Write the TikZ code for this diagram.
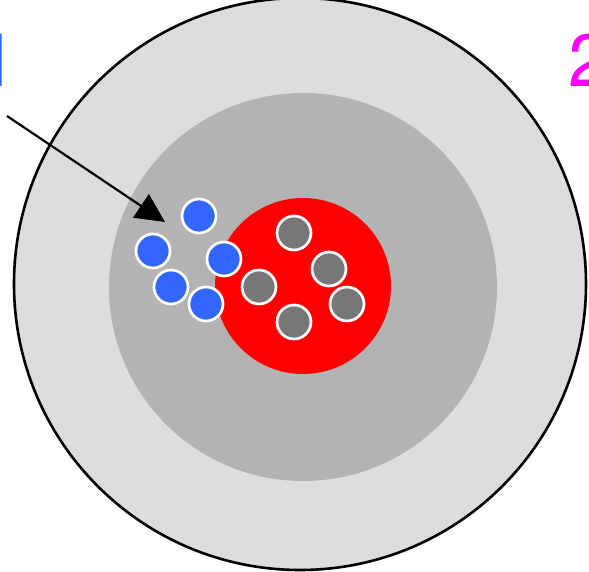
\documentclass[tikz,border=0pt]{standalone}
\usepackage{fontspec}
\setmainfont{TeX Gyre Heros}
\usetikzlibrary{arrows.meta}
\definecolor{shellouter}{HTML}{DDDDDD}
\definecolor{shellmid}{HTML}{B3B3B3}
\definecolor{corered}{HTML}{FF0000}
\definecolor{ballblue}{HTML}{3366FF}
\definecolor{ballgrey}{HTML}{777777}
\definecolor{labelmagenta}{HTML}{FF00FF}
\tikzset{
  ball/.style={circle, draw=white, line width=2.7pt, minimum size=34pt, inner sep=0pt},
  blueball/.style={ball, fill=ballblue},
  greyball/.style={ball, fill=ballgrey},
  biglabel/.style={anchor=base west, inner sep=0pt, font=\fontsize{74}{80}\selectfont},
  pointer/.style={line width=2.2pt, -{Triangle[length=29pt,width=28pt]}}
}
\begin{document}
\begin{tikzpicture}[x=1pt,y=-1pt]
\useasboundingbox (0,0) rectangle (589,572);
% concentric shells and core
\fill[shellouter, draw=black, line width=2.6pt] (300,284) circle[radius=286pt];
\fill[shellmid] (303,287) circle[radius=194pt];
\fill[corered] (303,286) circle[radius=88pt];
% particles outside the core
\node[blueball] (b1) at (199,216) {};
\node[blueball] (b2) at (153,251) {};
\node[blueball] (b3) at (224,259) {};
\node[blueball] (b4) at (171,287) {};
\node[blueball] (b5) at (206,304) {};
% particles inside the core
\node[greyball] (g1) at (294,233) {};
\node[greyball] (g2) at (329,269) {};
\node[greyball] (g3) at (259,287) {};
\node[greyball] (g4) at (347,304) {};
\node[greyball] (g5) at (294,322) {};
% incoming arrow
\coordinate (arrowstart) at (7,116);
\coordinate (arrowtip) at (165,222);
\draw[pointer] (arrowstart) -- (arrowtip);
% labels, running off the page edges
\node[biglabel, text=ballblue] (lab1) at (-23.5,87) {1};
\node[biglabel, text=labelmagenta] (lab2) at (568,87) {2};
\end{tikzpicture}
\end{document}
